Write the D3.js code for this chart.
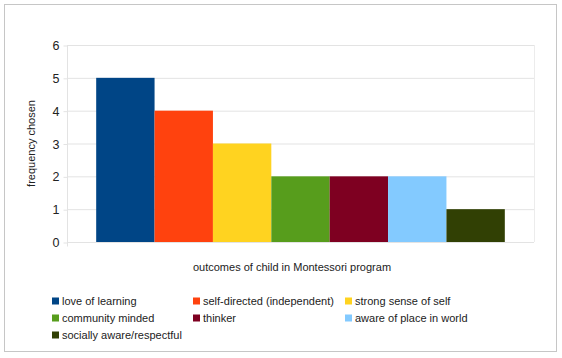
<!DOCTYPE html>
<html><head><meta charset="utf-8">
<script src="https://cdn.jsdelivr.net/npm/d3@7"></script>
<style>body{margin:0;background:#fff}svg{display:block;font-family:"Liberation Sans",Arial,sans-serif}</style>
</head><body><svg id="c" width="562" height="358"></svg>
<script>
const categories = ["love of learning","self-directed (independent)","strong sense of self","community minded","thinker","aware of place in world","socially aware/respectful"];
const values = [5,4,3,2,2,2,1];
const colors = ["#004586","#ff420e","#ffd320","#579d1c","#7e0021","#83caff","#314004"];
const yTicks = [0,1,2,3,4,5,6];
const yTitle = "frequency chosen";
const xTitle = "outcomes of child in Montessori program";

const svg = d3.select("#c");
svg.append("rect").attr("x",4.5).attr("y",4.5).attr("width",552).attr("height",347)
  .attr("fill","#fff").attr("stroke","#c6c6c6");

const pL=67, pR=534, pT=45, pB=242;
const x = d3.scaleBand().domain(categories).range([pL,pR]).paddingInner(0).paddingOuter(0.5);
const y = d3.scaleLinear().domain([0,6]).range([pB,pT]);

// gridlines
svg.append("g").selectAll("line").data(yTicks).join("line")
  .attr("x1",pL).attr("x2",pR).attr("y1",d=>y(d)+0.5).attr("y2",d=>y(d)+0.5)
  .attr("stroke","#e3e3e3");
svg.append("line").attr("x1",pR+0.5).attr("x2",pR+0.5).attr("y1",pT).attr("y2",pB)
  .attr("stroke","#ececec");

// bars
svg.append("g").selectAll("rect").data(categories).join("rect")
  .attr("x",d=>x(d)).attr("width",x.bandwidth())
  .attr("y",(d,i)=>y(values[i])).attr("height",(d,i)=>y(0)-y(values[i]))
  .attr("fill",(d,i)=>colors[i]);

// y axis
const ya = d3.axisLeft(y).tickValues(yTicks).tickFormat(d3.format("d")).tickSize(4).tickPadding(4);
const g = svg.append("g").attr("transform",`translate(${pL+0.5},0.5)`).call(ya);
g.select(".domain").attr("stroke","#e3e3e3").attr("d",`M0,${pT}V${pB+4}`);
g.selectAll(".tick line").attr("stroke","#e3e3e3");
g.selectAll(".tick text").attr("font-size",12.5).attr("fill","#222").attr("font-family","Liberation Sans, Arial, sans-serif");

svg.append("text").attr("transform",`translate(35,${(pT+pB)/2}) rotate(-90)`)
  .attr("text-anchor","middle").attr("font-size",11).attr("fill","#222").text(yTitle);
svg.append("text").attr("x",292).attr("y",271).attr("text-anchor","middle")
  .attr("font-size",11).attr("fill","#222").text(xTitle);

// legend
const colX=[52,193,345], rowY=[301,318,335];
const lg = svg.append("g").selectAll("g").data(categories).join("g")
  .attr("transform",(d,i)=>`translate(${colX[i%3]},${rowY[Math.floor(i/3)]})`);
lg.append("rect").attr("x",0).attr("y",-3.5).attr("width",7).attr("height",7).attr("fill",(d,i)=>colors[i]);
lg.append("text").attr("x",10).attr("y",4).attr("font-size",11).attr("fill","#222").text(d=>d);
</script></body></html>
